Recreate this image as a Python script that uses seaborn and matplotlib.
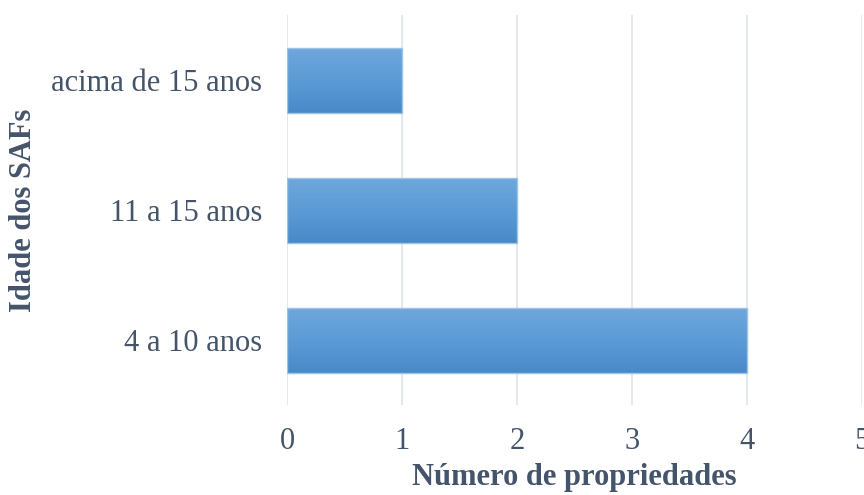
import numpy as np
import pandas as pd
import matplotlib
matplotlib.use("Agg")
import matplotlib.pyplot as plt
import seaborn as sns
from matplotlib.colors import LinearSegmentedColormap

# Age groups of the agroforestry systems and number of properties in each
categorias = ["acima de 15 anos", "11 a 15 anos", "4 a 10 anos"]
propriedades = [1, 2, 4]
ticks_x = [0, 1, 2, 3, 4, 5]

df = pd.DataFrame({"idade": categorias, "n": propriedades})

sns.set_theme(style="white")
plt.rcParams["font.family"] = ["Liberation Serif", "DejaVu Serif"]

TEXT = "#44546A"
GRID = "#E2E5EA"

fig = plt.figure(figsize=(8.64, 4.95), dpi=100)
ax = fig.add_axes([287 / 864, 1 - 405 / 495, 575 / 864, 390 / 495])

sns.barplot(data=df, x="n", y="idade", orient="h", color="#5B9BD5",
            width=0.5, ax=ax, zorder=3)

ax.set_xlim(0, 5)
ax.set_ylim(2.5, -0.5)
ax.set_xticks(ticks_x)

# vertical light gridlines
ax.grid(axis="x", color=GRID, linewidth=1.3, zorder=0)
ax.grid(axis="y", visible=False)
for s in ax.spines.values():
    s.set_visible(False)

# vertical gradient fill on each bar (lighter at the top), clipped to the bar
grad = LinearSegmentedColormap.from_list("g", ["#4A89C9", "#5B9BD5", "#6FA7DD"])
gimg = np.linspace(0, 1, 256).reshape(-1, 1)
for p in list(ax.patches):
    x0, y0 = p.get_x(), p.get_y()
    w, h = p.get_width(), p.get_height()
    im = ax.imshow(gimg, cmap=grad, aspect="auto", origin="lower",
                   extent=[x0, x0 + w, y0 + h, y0], zorder=4,
                   interpolation="bilinear")
    im.set_clip_path(p)
    p.set_edgecolor("#9DC3E6")
    p.set_linewidth(1.0)
    p.set_zorder(5)
    p.set_facecolor("none")
ax.set_xlim(0, 5)
ax.set_ylim(2.5, -0.5)

ax.tick_params(axis="both", length=0, labelsize=22, labelcolor=TEXT)
ax.tick_params(axis="y", pad=18)
ax.tick_params(axis="x", pad=16)

ax.set_xlabel("Número de propriedades", fontsize=22, fontweight="bold",
              color=TEXT, labelpad=5)
ax.set_ylabel("Idade dos SAFs", fontsize=22, fontweight="bold",
              color=TEXT)
ax.yaxis.set_label_coords((38 - 287) / 575, 0.5)

fig.savefig("out.png", dpi=100, facecolor="white")
